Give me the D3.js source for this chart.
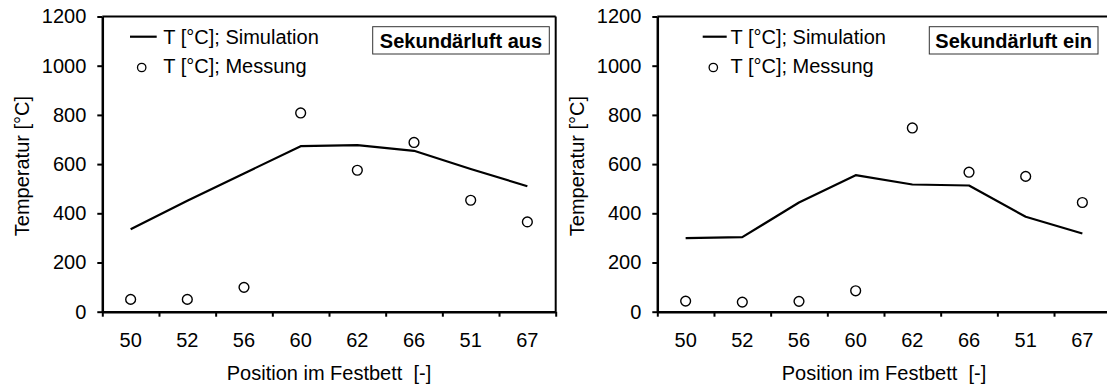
<!DOCTYPE html>
<html>
<head>
<meta charset="utf-8">
<script src="https://cdn.jsdelivr.net/npm/d3@7"></script>
<style>
  html, body { margin: 0; padding: 0; background: #fff; }
  svg { display: block; font-family: "Liberation Sans", Arial, sans-serif; }
  text { fill: #000; }
</style>
</head>
<body>
<svg id="chart" width="1107" height="390"></svg>
<script>
// ---- data ----
const categories = ["50", "52", "56", "60", "62", "66", "51", "67"];
const simAus  = [335, 451, 562, 673, 677, 654, 580, 510];
const messAus = [50, 50, 99, 808, 575, 688, 453, 365];
const simEin  = [299, 303, 444, 555, 517, 513, 386, 318];
const messEin = [43, 39, 42, 85, 747, 567, 550, 444];
const yTicks = [0, 200, 400, 600, 800, 1000, 1200];
const legendSim = "T [°C]; Simulation";
const legendMess = "T [°C]; Messung";
const labelAus = "Sekundärluft aus";
const labelEin = "Sekundärluft ein";
const xTitle = "Position im Festbett  [-]";
const yTitle = "Temperatur [°C]";

// ---- layout ----
const FS = 20;
const plotTop = 16.5, plotBottom = 311.7, plotW = 453.4;
const panels = [
  { x0: 102.3, sim: simAus, mess: messAus, label: labelAus,
    leg: { lx0: 130, lx1: 156.7, tx: 163.3, cx: 141.7 },
    box: { x0: 372.7, x1: 549.3 } },
  { x0: 657.3, sim: simEin, mess: messEin, label: labelEin,
    leg: { lx0: 702.7, lx1: 726.7, tx: 730.5, cx: 713.3 },
    box: { x0: 929.3, x1: 1098 } }
];

const svg = d3.select("#chart");
const y = d3.scaleLinear().domain([0, 1200]).range([plotBottom, plotTop]);

panels.forEach(p => {
  const x1 = p.x0 + plotW;
  const xb = d3.scaleBand().domain(categories).range([p.x0, x1]).padding(0);
  const xl = d3.scaleLinear().domain([0, categories.length]).range([p.x0, x1]);
  const g = svg.append("g");

  // frame top & right
  g.append("line").attr("x1", p.x0).attr("x2", x1).attr("y1", plotTop).attr("y2", plotTop)
    .attr("stroke", "#000").attr("stroke-width", 2);
  g.append("line").attr("x1", x1).attr("x2", x1).attr("y1", plotTop).attr("y2", plotBottom)
    .attr("stroke", "#000").attr("stroke-width", 2);

  // y axis
  const ya = g.append("g").attr("transform", `translate(${p.x0},0)`)
    .call(d3.axisLeft(y).tickValues(yTicks).tickFormat(d3.format("d"))
      .tickSize(5).tickSizeOuter(0).tickPadding(11));
  ya.select(".domain").attr("stroke-width", 2.5);
  ya.selectAll(".tick line").attr("stroke-width", 2);
  ya.selectAll("text").attr("font-size", FS).attr("font-family", null);

  // x axis boundary ticks
  const xa = g.append("g").attr("transform", `translate(0,${plotBottom})`)
    .call(d3.axisBottom(xl).tickValues(d3.range(categories.length + 1))
      .tickSize(5).tickSizeOuter(0).tickFormat(""));
  xa.select(".domain").attr("stroke-width", 2.5);
  xa.selectAll(".tick line").attr("stroke-width", 2);

  // x labels at band centers
  const xlab = g.append("g").attr("transform", `translate(0,${plotBottom})`)
    .call(d3.axisBottom(xb).tickSize(0).tickPadding(21));
  xlab.select(".domain").remove();
  xlab.selectAll("text").attr("font-size", FS).attr("font-family", null);

  // axis titles
  g.append("text").attr("x", (p.x0 + x1) / 2).attr("y", 379.5)
    .attr("text-anchor", "middle").attr("font-size", FS)
    .style("white-space", "pre").text(xTitle);
  g.append("text")
    .attr("transform", `translate(${p.x0 - 73.8},${(plotTop + plotBottom) / 2 + 2}) rotate(-90)`)
    .attr("text-anchor", "middle").attr("font-size", FS).text(yTitle);

  // simulation line
  const line = d3.line().x((d, i) => xb(categories[i]) + xb.bandwidth() / 2).y(d => y(d));
  g.append("path").datum(p.sim).attr("d", line)
    .attr("fill", "none").attr("stroke", "#000").attr("stroke-width", 2.2)
    .attr("stroke-linejoin", "round");

  // measurements
  g.selectAll("circle.m").data(p.mess).join("circle").attr("class", "m")
    .attr("cx", (d, i) => xb(categories[i]) + xb.bandwidth() / 2)
    .attr("cy", d => y(d)).attr("r", 4.9)
    .attr("fill", "#fff").attr("stroke", "#000").attr("stroke-width", 1.4);

  // legend
  g.append("line").attr("x1", p.leg.lx0).attr("x2", p.leg.lx1).attr("y1", 36.7).attr("y2", 36.7)
    .attr("stroke", "#000").attr("stroke-width", 2.2);
  g.append("text").attr("x", p.leg.tx).attr("y", 44).attr("font-size", FS).text(legendSim);
  g.append("circle").attr("cx", p.leg.cx).attr("cy", 67.5).attr("r", 4.2)
    .attr("fill", "#fff").attr("stroke", "#000").attr("stroke-width", 1.3);
  g.append("text").attr("x", p.leg.tx).attr("y", 73.3).attr("font-size", FS).text(legendMess);

  // label box
  g.append("rect").attr("x", p.box.x0).attr("y", 26.7)
    .attr("width", p.box.x1 - p.box.x0).attr("height", 27.3)
    .attr("fill", "#fff").attr("stroke", "#333").attr("stroke-width", 1);
  g.append("text").attr("x", (p.box.x0 + p.box.x1) / 2).attr("y", 47.5)
    .attr("text-anchor", "middle").attr("font-size", FS).attr("font-weight", "bold")
    .text(p.label);
});
</script>
</body>
</html>
